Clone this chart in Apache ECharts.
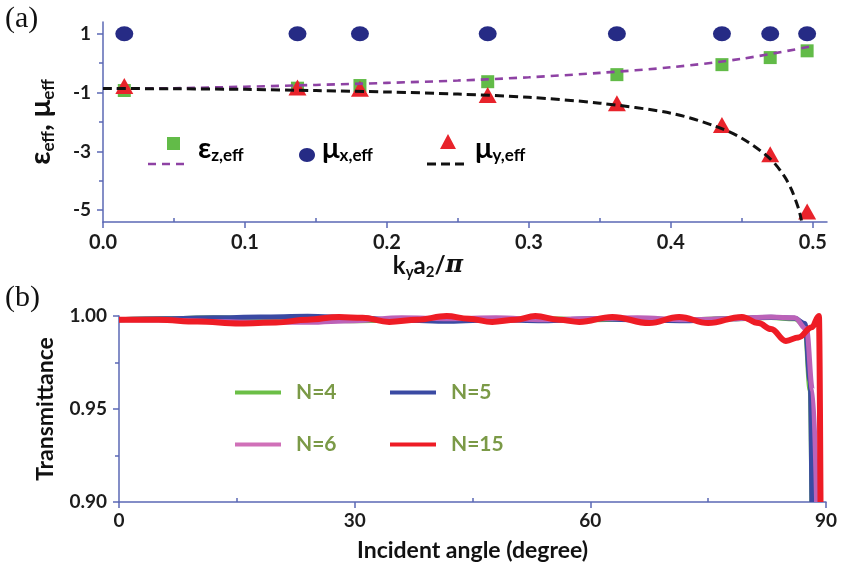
<!DOCTYPE html>
<html>
<head>
<meta charset="utf-8">
<script src="https://cdn.jsdelivr.net/npm/echarts@6/dist/echarts.min.js"></script>
<style>html,body{margin:0;padding:0;background:#fff}#c{width:843px;height:570px}</style>
</head>
<body>
<div id="c"></div>
<script>
// ---------- Panel (a) data ----------
const kPts = [0.015, 0.137, 0.181, 0.271, 0.362, 0.436, 0.470, 0.496];
const muX = [1, 1, 1, 1, 1, 1, 1, 1];
const epsZ = [-0.93, -0.85, -0.76, -0.63, -0.39, -0.05, 0.19, 0.42];
const muY = [-0.78, -0.83, -0.87, -1.08, -1.36, -2.10, -3.10, -5.04];
const fitEpsX = [0, 0.05, 0.1, 0.15, 0.2, 0.25, 0.3, 0.35, 0.4, 0.45, 0.5];
const fitEpsY = [-0.87, -0.85, -0.80, -0.74, -0.67, -0.59, -0.48, -0.33, -0.14, 0.15, 0.58];
const fitMuX = [0, 0.05, 0.1, 0.15, 0.2, 0.25, 0.3, 0.35, 0.4, 0.43, 0.45, 0.47, 0.48, 0.485, 0.49, 0.492];
const fitMuY = [-0.86, -0.87, -0.89, -0.93, -0.98, -1.05, -1.16, -1.36, -1.70, -2.12, -2.55, -3.25, -3.85, -4.3, -4.95, -5.35];
const xTicksA = [0, 0.1, 0.2, 0.3, 0.4, 0.5];
const xMinorA = [0.05, 0.15, 0.25, 0.35, 0.45];
const yTicksA = [-5, -3, -1, 1];
const yMinorA = [-4, -2, 0];

// ---------- Panel (b) data ----------
const angN4 = [0, 6, 12, 18, 24, 30, 36, 42, 48, 54, 60, 66, 72, 78, 83, 86, 87.3, 88, 88.2];
const tN4 = [0.998, 0.9985, 0.999, 0.9985, 0.998, 0.9975, 0.998, 0.9985, 0.998, 0.9985, 0.998, 0.9985, 0.998, 0.9985, 0.9992, 0.9985, 0.995, 0.96, 0.90];
const angN5 = [0, 6, 12, 18, 24, 30, 36, 42, 48, 54, 60, 66, 72, 78, 83, 86, 87.3, 88, 88.2];
const tN5 = [0.998, 0.9985, 0.999, 0.9995, 0.9998, 0.999, 0.9978, 0.9972, 0.998, 0.9975, 0.9985, 0.998, 0.9975, 0.9985, 0.9993, 0.9988, 0.996, 0.965, 0.90];
const angN6 = [0, 6, 12, 18, 24, 30, 36, 42, 48, 54, 60, 66, 72, 78, 83, 86, 87.5, 88.3, 88.8];
const tN6 = [0.998, 0.9978, 0.997, 0.9966, 0.9966, 0.9975, 0.999, 0.9985, 0.999, 0.998, 0.9985, 0.999, 0.998, 0.9985, 0.9995, 0.999, 0.993, 0.96, 0.90];
const angN15 = [0, 5, 10, 15.4, 20, 24, 28, 31, 34.4, 38, 41.7, 44.5, 47.5, 50.5, 53, 56, 58.6, 62.8, 67.5, 71.3, 75, 79.3, 81.4, 83, 84.9, 86.5, 88.2, 89.1, 89.3];
const tN15 = [0.998, 0.998, 0.997, 0.996, 0.9965, 0.998, 0.9995, 0.999, 0.9968, 0.998, 1.0, 0.9985, 0.9968, 0.998, 1.0, 0.998, 0.9968, 0.9995, 0.9962, 0.9995, 0.9962, 0.9995, 0.9962, 0.993, 0.9866, 0.9885, 0.994, 1.0, 0.90];
const xTicksB = [0, 30, 60, 90];
const xMinorB = [15, 45, 75];
const yTicksB = [0.90, 0.95, 1.00];
const yMinorB = [0.925, 0.975];

const pair = (xs, ys) => xs.map((x, i) => [x, ys[i]]);

const AX = '#5b68b5';
const FONT = 'Lato, "Open Sans", sans-serif';
const OLIVE = '#7b9a47';
const lbl = {fontFamily: FONT, fontWeight: 'bold', color: '#1c1c1c'};

function mainAxis(gi, min, max, ticks, fmt, extra) {
  return Object.assign({
    type: 'value', gridIndex: gi, min: min, max: max,
    splitLine: {show: false},
    axisLine: {show: true, onZero: false, lineStyle: {color: AX, width: 1.5}},
    axisTick: {show: true, customValues: ticks, length: 6, lineStyle: {color: AX, width: 1.5}},
    axisLabel: Object.assign({customValues: ticks, formatter: fmt}, lbl)
  }, extra);
}
function minorAxis(gi, min, max, ticks, inside, pos) {
  return {
    type: 'value', gridIndex: gi, min: min, max: max, position: pos,
    splitLine: {show: false},
    axisLine: {show: false, onZero: false},
    axisTick: {show: true, inside: inside, customValues: ticks, length: 4, lineStyle: {color: AX, width: 1.5}},
    axisLabel: {show: false}
  };
}

const subPad = (big, small) => ({
  m: {fontSize: big, fontWeight: 'bold', fontFamily: FONT, color: '#111'},
  s: {fontSize: small, fontWeight: 'bold', fontFamily: FONT, color: '#111', padding: [Math.round(big * 0.55), 0, 0, 0]},
  i: {fontSize: big, fontWeight: 'bold', fontStyle: 'italic', fontFamily: '"DejaVu Serif", serif', color: '#111'}
});
const legRich = (c) => ({
  m: {fontSize: 29, fontWeight: 'bold', fontFamily: FONT, color: c},
  s: {fontSize: 17, fontWeight: 'bold', fontFamily: FONT, color: c, padding: [15, 0, 0, 0]}
});

const option = {
  animation: false,
  backgroundColor: '#fff',
  grid: [
    {left: 103, right: 16, top: 22, bottom: 348},
    {left: 119, right: 17, top: 316, bottom: 68}
  ],
  xAxis: [
    mainAxis(0, 0, 0.51, xTicksA, v => v.toFixed(1), {
      position: 'bottom',
      axisLabel: Object.assign({customValues: xTicksA, formatter: v => v.toFixed(1), fontSize: 20, margin: 11}, lbl),
      name: '{m|k}{s|y}{m|a}{s|2}{m|/}{i|π}', nameLocation: 'middle', nameGap: 29,
      nameTextStyle: {rich: subPad(24, 15), padding: [0, 74, 0, 0]}
    }),
    minorAxis(0, 0, 0.51, xMinorA, true, 'bottom'),
    mainAxis(1, 0, 90, xTicksB, v => String(v), {
      position: 'bottom',
      axisLabel: Object.assign({customValues: xTicksB, formatter: v => String(v), fontSize: 19, margin: 9}, lbl),
      name: 'Incident angle (degree)', nameLocation: 'middle', nameGap: 37,
      nameTextStyle: {fontFamily: FONT, fontWeight: 'bold', fontSize: 23, color: '#111'}
    }),
    minorAxis(1, 0, 90, xMinorB, true, 'bottom')
  ],
  yAxis: [
    mainAxis(0, -5.4, 1.4, yTicksA, v => String(v), {
      position: 'left',
      axisLabel: Object.assign({customValues: yTicksA, formatter: v => String(v), fontSize: 19, margin: 12}, lbl),
      name: '{m|ε}{s|eff}{m|, μ}{s|eff}', nameLocation: 'middle', nameGap: 46, nameRotate: 90,
      nameTextStyle: {rich: subPad(29, 17)}
    }),
    minorAxis(0, -5.4, 1.4, yMinorA, false, 'left'),
    mainAxis(1, 0.90, 1.00, yTicksB, v => v.toFixed(2), {
      position: 'left',
      axisLabel: Object.assign({customValues: yTicksB, formatter: v => v.toFixed(2), fontSize: 19, margin: 12}, lbl),
      name: 'Transmittance', nameLocation: 'middle', nameGap: 62, nameRotate: 90,
      nameTextStyle: {fontFamily: FONT, fontWeight: 'bold', fontSize: 23, color: '#111'}
    }),
    minorAxis(1, 0.90, 1.00, yMinorB, false, 'left')
  ],
  legend: [
    {data: ['N=4', 'N=6'], orient: 'vertical', left: 230, top: 377, itemGap: 31, itemWidth: 46, itemHeight: 4, icon: 'rect',
     textStyle: {fontFamily: FONT, fontWeight: 'bold', fontSize: 21, color: OLIVE, padding: [0, 0, 0, 10]}},
    {data: ['N=5', 'N=15'], orient: 'vertical', left: 385, top: 377, itemGap: 31, itemWidth: 46, itemHeight: 4, icon: 'rect',
     textStyle: {fontFamily: FONT, fontWeight: 'bold', fontSize: 21, color: OLIVE, padding: [0, 0, 0, 10]}}
  ],
  series: [
    {name: 'mux', type: 'scatter', xAxisIndex: 0, yAxisIndex: 0, data: pair(kPts, muX),
     symbol: 'circle', symbolSize: [18, 15], itemStyle: {color: '#262b85', opacity: 1}, z: 3},
    {name: 'epsz', type: 'scatter', xAxisIndex: 0, yAxisIndex: 0, data: pair(kPts, epsZ),
     symbol: 'rect', symbolSize: 13, itemStyle: {color: '#62bb48', opacity: 1}, z: 3},
    {name: 'muy', type: 'scatter', xAxisIndex: 0, yAxisIndex: 0, data: pair(kPts, muY),
     symbol: 'triangle', symbolSize: [18, 16], itemStyle: {color: '#e8232b', opacity: 1}, z: 3},
    {name: 'epsfit', type: 'line', xAxisIndex: 0, yAxisIndex: 0, data: pair(fitEpsX, fitEpsY), showSymbol: false, symbol: 'none',
     smooth: 0.3, lineStyle: {color: '#8e42a4', width: 2.6, type: [8, 6]}, z: 4, clip: false},
    {name: 'mufit', type: 'line', xAxisIndex: 0, yAxisIndex: 0, data: pair(fitMuX, fitMuY), showSymbol: false, symbol: 'none',
     smooth: 0.3, lineStyle: {color: '#111', width: 3, type: [9, 5]}, z: 5, clip: false},

    {name: 'N=4', type: 'line', xAxisIndex: 2, yAxisIndex: 2, data: pair(angN4, tN4), symbol: 'none', smooth: 0.4, smoothMonotone: 'x',
     lineStyle: {color: '#6bbf46', width: 5}, itemStyle: {color: '#6bbf46'}, clip: false},
    {name: 'N=5', type: 'line', xAxisIndex: 2, yAxisIndex: 2, data: pair(angN5, tN5), symbol: 'none', smooth: 0.4, smoothMonotone: 'x',
     lineStyle: {color: '#3a4aa3', width: 5}, itemStyle: {color: '#3a4aa3'}, clip: false},
    {name: 'N=6', type: 'line', xAxisIndex: 2, yAxisIndex: 2, data: pair(angN6, tN6), symbol: 'none', smooth: 0.4, smoothMonotone: 'x',
     lineStyle: {color: '#bb62b8', width: 5}, itemStyle: {color: '#d070b8'}, clip: false},
    {name: 'N=15', type: 'line', xAxisIndex: 2, yAxisIndex: 2, data: pair(angN15, tN15), symbol: 'none', smooth: 0.4, smoothMonotone: 'x',
     lineStyle: {color: '#ee1c25', width: 6}, itemStyle: {color: '#ee1c25'}, clip: false}
  ],
  graphic: [
    {type: 'text', left: 5, top: 4, style: {text: '(a)', fontFamily: '"Liberation Serif", "DejaVu Serif", serif', fontSize: 30, fill: '#111'}},
    {type: 'text', left: 5, top: 283, style: {text: '(b)', fontFamily: '"Liberation Serif", "DejaVu Serif", serif', fontSize: 30, fill: '#111'}},
    // legend (a)
    {type: 'rect', shape: {x: 167, y: 137, width: 13, height: 13}, style: {fill: '#62bb48'}},
    {type: 'line', shape: {x1: 148, y1: 164, x2: 188, y2: 164}, style: {stroke: '#8e42a4', lineWidth: 2.6, lineDash: [8, 6]}},
    {type: 'text', left: 198, top: 134, style: {text: '{m|ε}{s|z,eff}', rich: legRich(OLIVE)}},
    {type: 'ellipse', shape: {cx: 307, cy: 155, rx: 8, ry: 7}, style: {fill: '#262b85'}},
    {type: 'text', left: 322, top: 134, style: {text: '{m|μ}{s|x,eff}', rich: legRich(OLIVE)}},
    {type: 'polygon', shape: {points: [[448, 134], [440, 149], [456, 149]]}, style: {fill: '#e8232b'}},
    {type: 'line', shape: {x1: 427, y1: 164, x2: 466, y2: 164}, style: {stroke: '#111', lineWidth: 3, lineDash: [9, 5]}},
    {type: 'text', left: 475, top: 134, style: {text: '{m|μ}{s|y,eff}', rich: legRich(OLIVE)}}
  ]
};

const chart = echarts.init(document.getElementById('c'), null, {renderer: 'canvas'});
chart.setOption(option);
</script>
</body>
</html>
